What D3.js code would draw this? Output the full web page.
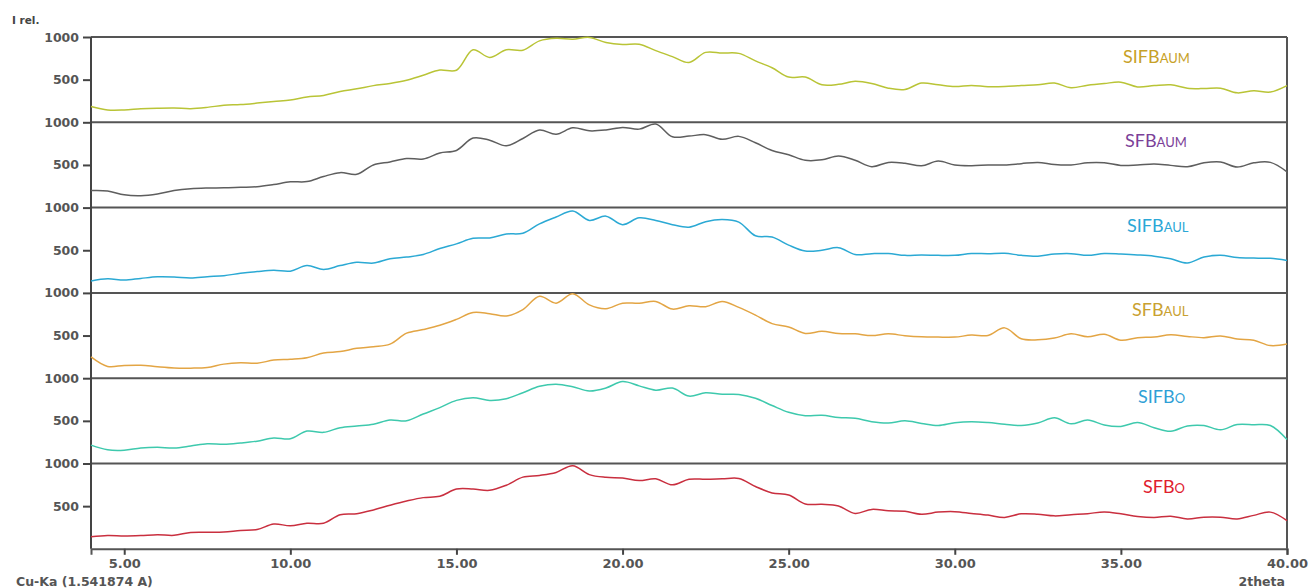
<!DOCTYPE html>
<html>
<head>
<meta charset="utf-8">
<script src="https://cdn.jsdelivr.net/npm/d3@7"></script>
<style>
  html, body { margin: 0; padding: 0; background: #ffffff; }
  svg { display: block; }
  .tick text { font-family: "DejaVu Sans", sans-serif; font-weight: bold; fill: #555; }
</style>
</head>
<body>
<svg id="chart" width="1309" height="588"></svg>
<script>
// 2θ sampling grid (degrees)
const twoTheta = [4,4.5,5,5.5,6,6.5,7,7.5,8,8.5,9,9.5,10,10.5,11,11.5,12,12.5,13,13.5,14,14.5,15,15.5,16,16.5,17,17.5,18,18.5,19,19.5,20,20.5,21,21.5,22,22.5,23,23.5,24,24.5,25,25.5,26,26.5,27,27.5,28,28.5,29,29.5,30,30.5,31,31.5,32,32.5,33,33.5,34,34.5,35,35.5,36,36.5,37,37.5,38,38.5,39,39.5,40];

// relative intensities, one pattern per sample (top to bottom)
const SIFBAUM = [185,145,145,158,165,168,160,175,200,208,225,245,262,296,315,360,392,430,455,492,552,612,610,850,760,850,845,955,985,975,995,935,912,915,840,770,700,820,812,808,720,640,530,530,440,445,480,455,400,385,460,440,420,432,418,420,432,440,460,405,435,455,470,415,430,440,400,395,400,345,370,355,430];
const SFBAUM = [200,195,150,140,160,200,222,230,232,238,244,270,302,305,365,410,390,500,535,575,570,640,670,815,790,725,810,910,860,935,900,910,940,920,980,830,838,855,800,835,760,670,620,555,560,605,555,480,530,520,490,545,500,492,498,500,515,530,505,500,525,525,495,500,512,495,480,525,535,475,525,530,420];
const SIFBAUL = [140,165,150,170,188,186,175,190,202,230,250,265,255,320,275,320,360,350,400,420,450,520,575,640,645,690,700,810,890,960,850,900,800,880,850,800,770,835,860,830,670,655,560,490,500,530,450,460,462,440,445,440,440,462,460,465,440,430,455,460,440,462,455,445,430,400,350,420,440,415,408,405,380];
const SFBAUL = [250,138,150,152,134,120,118,125,165,180,175,212,222,240,295,312,350,370,400,528,570,620,690,770,756,730,805,960,880,990,860,815,880,878,900,810,850,838,900,830,740,640,600,525,550,525,520,500,520,498,485,482,482,505,500,590,462,450,470,520,485,515,445,475,482,510,490,475,495,460,445,382,400];
const SIFBO = [215,160,155,182,190,182,205,232,225,240,262,300,290,380,365,420,440,460,510,500,580,655,740,770,740,760,830,905,930,900,850,885,960,910,860,885,790,830,812,810,765,680,600,560,565,540,530,490,475,500,470,445,478,490,480,460,445,475,535,465,510,452,435,480,420,378,440,445,395,458,455,445,280];
const SFBO = [140,155,150,155,165,158,192,195,198,215,225,290,270,300,300,400,412,455,510,560,600,615,700,700,686,745,840,860,895,975,870,838,830,800,820,750,815,815,820,825,730,655,630,525,522,502,415,462,445,440,405,430,435,415,395,368,410,405,386,400,412,432,410,380,368,382,350,370,370,350,392,430,330];

// sample names: base + small-caps suffix
const sampleBase   = ["SIFB", "SFB", "SIFB", "SFB", "SIFB", "SFB"];
const sampleSuffix = ["AUM", "AUM", "AUL", "AUL", "O", "O"];
const seriesValues = [SIFBAUM, SFBAUM, SIFBAUL, SFBAUL, SIFBO, SFBO];

// tick labels
const yTicks = [500, 1000];
const xTicks = [5, 10, 15, 20, 25, 30, 35, 40];

// styling per panel
const lineColors  = ["#b9c436", "#5e5e5e", "#2ba9d4", "#e3a544", "#3ec9ad", "#c92f3f"];
const labelColors = ["#c7a127", "#7b3f98", "#2ba7d6", "#c9a130", "#2f9fd6", "#e0202e"];
const labelPos    = [[1123, 63], [1125, 147], [1127, 232], [1132, 316], [1138, 403], [1143, 493]];

const svg = d3.select("#chart");
const plotLeft = 91, plotRight = 1287, plotTop = 37, panelH = 85.3, nPanels = 6;
const plotBottom = plotTop + panelH * nPanels;

const x = d3.scaleLinear().domain([4, 40]).range([plotLeft, plotRight]);

const frame = svg.append("g");

seriesValues.forEach((vals, i) => {
  const pTop = plotTop + i * panelH;
  const y = d3.scaleLinear().domain([0, 1000]).range([pTop + panelH, pTop]);

  // y axis ticks for this panel
  const ax = svg.append("g")
    .attr("transform", `translate(${plotLeft},0)`)
    .call(d3.axisLeft(y).tickValues(yTicks).tickSize(8).tickPadding(4).tickFormat(d3.format("d")));
  ax.select(".domain").remove();
  ax.selectAll(".tick line").attr("stroke", "#444").attr("stroke-width", 2);
  ax.selectAll(".tick text").style("font-size", "12.5px");

  // panel top border
  frame.append("line")
    .attr("x1", plotLeft).attr("x2", plotRight)
    .attr("y1", pTop).attr("y2", pTop)
    .attr("stroke", "#555").attr("stroke-width", 2);

  // diffraction pattern
  const line = d3.line()
    .x((d, k) => x(twoTheta[k]))
    .y(d => y(d))
    .curve(d3.curveCatmullRom.alpha(0.5));
  svg.append("path")
    .datum(vals)
    .attr("fill", "none")
    .attr("stroke", lineColors[i])
    .attr("stroke-width", 1.5)
    .attr("stroke-linejoin", "round")
    .attr("d", line);

  // sample name
  const t = svg.append("text")
    .attr("x", labelPos[i][0]).attr("y", labelPos[i][1])
    .attr("fill", labelColors[i])
    .style("font-family", "Lato, 'Open Sans', sans-serif")
    .style("font-size", "18px");
  t.append("tspan").text(sampleBase[i]);
  t.append("tspan").style("font-size", "13px").text(sampleSuffix[i]);
});

// left and right frame
frame.append("line").attr("x1", plotLeft).attr("x2", plotLeft).attr("y1", plotTop).attr("y2", plotBottom)
  .attr("stroke", "#444").attr("stroke-width", 2);
frame.append("line").attr("x1", plotRight).attr("x2", plotRight).attr("y1", plotTop).attr("y2", plotBottom)
  .attr("stroke", "#555").attr("stroke-width", 2);

// 2θ axis
const xa = svg.append("g")
  .attr("transform", `translate(0,${plotBottom})`)
  .call(d3.axisBottom(x).tickValues(xTicks).tickSize(6).tickPadding(4).tickFormat(d3.format(".2f")));
xa.select(".domain").attr("stroke", "#555").attr("stroke-width", 2);
xa.selectAll(".tick line").attr("stroke", "#444").attr("stroke-width", 2);
xa.selectAll(".tick text").style("font-size", "13px");

// axis titles
const titleStyle = s => s.style("font-family", "'DejaVu Sans', sans-serif").style("font-weight", "bold").attr("fill", "#555");
svg.append("text").attr("x", 12).attr("y", 24).text("I rel.")
  .call(titleStyle).style("font-size", "10.5px").attr("fill", "#444");
svg.append("text").attr("x", 16).attr("y", 586).text("Cu-Ka (1.541874 A)")
  .call(titleStyle).style("font-size", "12.5px");
svg.append("text").attr("x", 1285).attr("y", 586).attr("text-anchor", "end").text("2theta")
  .call(titleStyle).style("font-size", "12.5px");
</script>
</body>
</html>
